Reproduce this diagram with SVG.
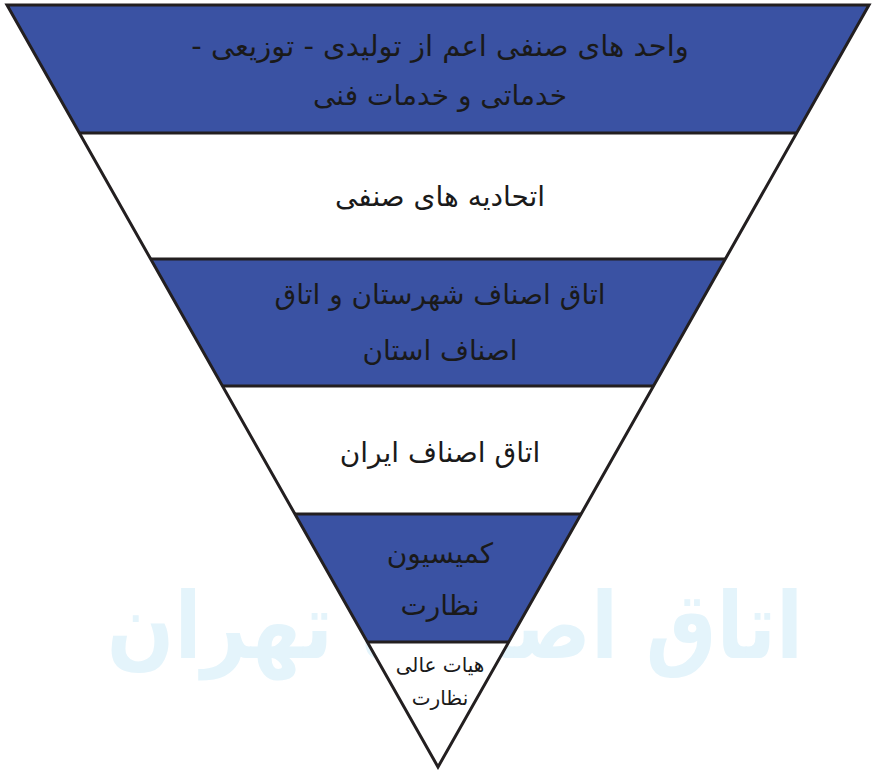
<svg xmlns="http://www.w3.org/2000/svg" width="872" height="770" viewBox="0 0 872 770">
<style>
.blue{fill:#3a52a3;}
.white{fill:#ffffff;}
.line{stroke:#231f20;stroke-width:3;fill:none;stroke-linejoin:miter;}
.t{font-family:"DejaVu Sans",sans-serif;font-size:28px;fill:#1a1a1a;text-anchor:middle;direction:rtl;unicode-bidi:embed;}
.l{font-size:29px;}
.s{font-size:20px;}
.wm{font-family:"DejaVu Sans",sans-serif;font-weight:bold;font-size:88px;fill:#e4f4fb;text-anchor:middle;direction:rtl;unicode-bidi:embed;}
</style>
<rect width="872" height="770" fill="#ffffff"/>
<text class="wm" transform="translate(455,658) scale(0.9,1.05)" x="0" y="0">اتاق اصناف تهران</text>
<g id="band1">
<polygon class="blue" points="7,5 869,5 796.6,133 79.4,133"/>
<text class="t l" x="440" y="56">واحد های صنفی اعم از تولیدی - توزیعی -</text>
<text class="t" x="440" y="105">خدماتی و خدمات فنی</text>
</g>
<g id="band2">
<polygon class="white" points="79.4,133 796.6,133 725.3,259 150.7,259"/>
<text class="t" x="440" y="206">اتحادیه های صنفی</text>
</g>
<g id="band3">
<polygon class="blue" points="150.7,259 725.3,259 653.5,386 222.5,386"/>
<text class="t" x="440" y="304">اتاق اصناف شهرستان و اتاق</text>
<text class="t" x="440" y="360">اصناف استان</text>
</g>
<g id="band4">
<polygon class="white" points="222.5,386 653.5,386 581.1,514 294.9,514"/>
<text class="t" x="440" y="462">اتاق اصناف ایران</text>
</g>
<g id="band5">
<polygon class="blue" points="294.9,514 581.1,514 508.7,642 367.3,642"/>
<text class="t" x="440" y="563">کمیسیون</text>
<text class="t" x="440" y="615">نظارت</text>
</g>
<g id="band6">
<polygon class="white" points="367.3,642 508.7,642 438,767"/>
<text class="t s" x="440" y="672">هیات عالی</text>
<text class="t s" x="440" y="705">نظارت</text>
</g>
<g id="connectors">
<line class="line" x1="79.4" y1="133" x2="796.6" y2="133"/>
<line class="line" x1="150.7" y1="259" x2="725.3" y2="259"/>
<line class="line" x1="222.5" y1="386" x2="653.5" y2="386"/>
<line class="line" x1="294.9" y1="514" x2="581.1" y2="514"/>
<line class="line" x1="367.3" y1="642" x2="508.7" y2="642"/>
<polygon class="line" points="7,5 869,5 438,767"/>
</g>
</svg>
